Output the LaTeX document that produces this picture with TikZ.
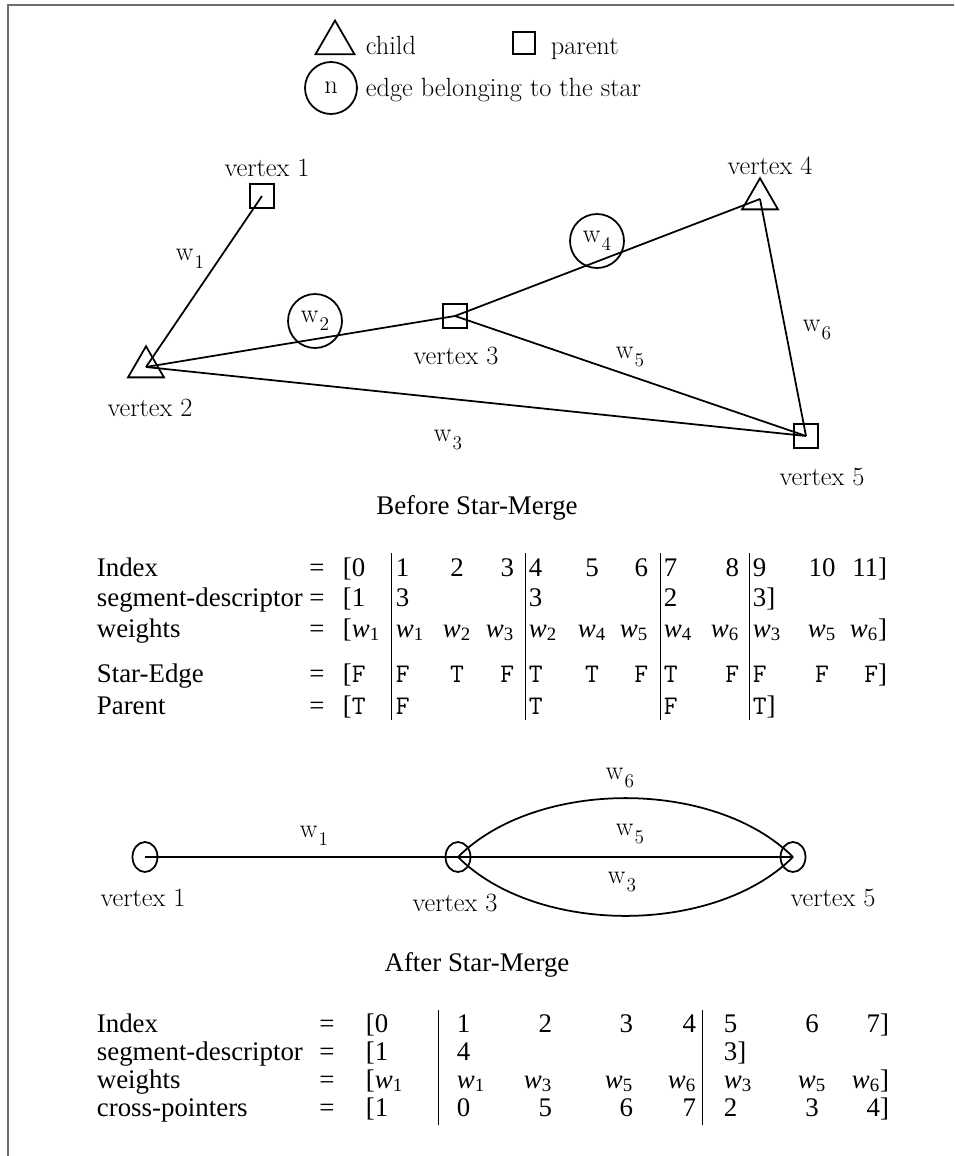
\documentclass[tikz,border=0pt]{standalone}
\usepackage{fontspec}
\newfontfamily\tnr{Liberation Serif}
\usepackage{tikz}
\usetikzlibrary{shapes, shapes.geometric, calc}

\definecolor{framegray}{RGB}{110,110,110}

\newcommand{\cmsize}{\fontsize{15}{18}\selectfont}
\newcommand{\tnrsize}{\tnr\fontsize{15.3}{18}\selectfont}
\newcommand{\wlab}[1]{w\kern0.6pt\raisebox{-4.5pt}{\fontsize{11}{11}\selectfont #1}}
\newcommand{\wt}[1]{\textit{w}\textsubscript{#1}}
\newcommand{\tfval}[1]{{\ttfamily #1}}

\tikzstyle{parentmark} = [
    rectangle,
    draw = black,
    minimum size = 0.48cm,
    inner sep = 0pt,
]
\tikzstyle{childmark} = [
    regular polygon,
    regular polygon sides = 3,
    draw = black,
    minimum size = 0.83cm,
    inner sep = 0pt,
]
\tikzstyle{staredge} = [
    circle,
    draw = black,
    minimum size = 1.08cm,
    inner sep = 0pt,
    font = \cmsize,
]
\tikzstyle{merged} = [
    ellipse,
    draw = black,
    minimum width = 0.5cm,
    minimum height = 0.6cm,
    inner sep = 0pt,
]
\tikzstyle{cmtext} = [font = \cmsize, inner sep = 0pt]
\tikzstyle{cell} = [font = \tnrsize, inner sep = 0pt]

\begin{document}
\begin{tikzpicture} [x = 0.02cm, y = -0.02cm, line width = 1pt]
    \useasboundingbox (0, 0) rectangle (954, 1156);
    \draw[framegray, line width = 1.2pt] (954, 5) -| (8, 1156);

    % legend
    \node (LegendChild) [childmark, minimum size = 0.9cm] at (335, 43) {};
    \node (TextChild) [cmtext, anchor = base west] at (365, 54) {child};
    \node (LegendParent) [parentmark, minimum size = 0.44cm] at (524, 43) {};
    \node (TextParent) [cmtext, anchor = base west] at (550, 54) {parent};
    \node (LegendStar) [staredge, minimum size = 1.04cm] at (331, 88) {n};
    \node (TextStar) [cmtext, anchor = base west] at (365, 96) {edge belonging to the star};

    % before star-merge
    \node (V1) [parentmark] at (262, 196) {};
    \node (V2) [childmark] at (146, 367) {};
    \node (V3) [parentmark] at (455, 316) {};
    \node (V4) [childmark] at (760, 199) {};
    \node (V5) [parentmark] at (806, 436) {};

    \draw[-] (V1.center) -- (V2.center);
    \draw[-] (V2.center) -- (V3.center);
    \draw[-] (V2.center) -- (V5.center);
    \draw[-] (V3.center) -- (V4.center);
    \draw[-] (V3.center) -- (V5.center);
    \draw[-] (V4.center) -- (V5.center);

    \node (W1) [cmtext] at (190, 259) {\wlab{1}};
    \node (W2) [staredge] at (315, 321) {\wlab{2}};
    \node (W3) [cmtext] at (448, 440) {\wlab{3}};
    \node (W4) [staredge] at (597, 241) {\wlab{4}};
    \node (W5) [cmtext] at (630, 357) {\wlab{5}};
    \node (W6) [cmtext] at (817, 330) {\wlab{6}};

    \node (L1) [cmtext] at (267, 168) {vertex 1};
    \node (L2) [cmtext] at (150, 408) {vertex 2};
    \node (L3) [cmtext] at (456, 356) {vertex 3};
    \node (L4) [cmtext] at (770, 166) {vertex 4};
    \node (L5) [cmtext] at (822, 477) {vertex 5};

    \node (Before) [cell] at (477, 508) {Before Star-Merge};

    % before: arrays
    \foreach \y/\name [count = \r] in {576/Index, 606/segment-descriptor, 637/weights, 682/Star-Edge, 714/Parent} {
        \node (TA-\r-label) [cell, anchor = base west] at (96, \y) {\name};
        \node (TA-\r-eq) [cell, anchor = base] at (317, \y) {=};
    }
    \foreach \x/\a/\t [count = \c] in {342/base west/[0, 395/base west/1, 457/base/2, 515/base east/3, 528/base west/4, 592/base/5, 649/base east/6, 663/base west/7, 740/base east/8, 752/base west/9, 822/base/10, 888/base east/11]}
        \node (TA-1-\c) [cell, anchor = \a] at (\x, 576) {\t};
    \foreach \x/\a/\t [count = \c] in {342/base west/[1, 395/base west/3, 528/base west/3, 663/base west/2, 752/base west/3]}
        \node (TA-2-\c) [cell, anchor = \a] at (\x, 606) {\t};
    \foreach \x/\a/\t [count = \c] in {342/base west/[\wt{1}, 395/base west/\wt{1}, 457/base/\wt{2}, 515/base east/\wt{3}, 528/base west/\wt{2}, 592/base/\wt{4}, 649/base east/\wt{5}, 663/base west/\wt{4}, 740/base east/\wt{6}, 752/base west/\wt{3}, 822/base/\wt{5}, 888/base east/\wt{6}]}
        \node (TA-3-\c) [cell, anchor = \a] at (\x, 637) {\t};
    \foreach \x/\a/\t [count = \c] in {342/base west/[\tfval{F}, 395/base west/\tfval{F}, 457/base/\tfval{T}, 515/base east/\tfval{F}, 528/base west/\tfval{T}, 592/base/\tfval{T}, 649/base east/\tfval{F}, 663/base west/\tfval{T}, 740/base east/\tfval{F}, 752/base west/\tfval{F}, 822/base/\tfval{F}, 888/base east/\tfval{F}]}
        \node (TA-4-\c) [cell, anchor = \a] at (\x, 682) {\t};
    \foreach \x/\a/\t [count = \c] in {342/base west/[\tfval{T}, 395/base west/\tfval{F}, 528/base west/\tfval{T}, 663/base west/\tfval{F}, 752/base west/\tfval{T}]}
        \node (TA-5-\c) [cell, anchor = \a] at (\x, 714) {\t};
    \foreach \x [count = \b] in {391, 525, 660, 749} {
        \coordinate (TA-bar\b-top) at (\x, 553);
        \coordinate (TA-bar\b-bot) at (\x, 720);
        \draw[line width = 0.5pt] (TA-bar\b-top) -- (TA-bar\b-bot);
    }

    % after star-merge
    \node (M1) [merged] at (145, 857) {};
    \node (M3) [merged] at (458, 857) {};
    \node (M5) [merged] at (793, 857) {};

    \draw[-] (M1.center) -- (M3.center);
    \draw[-] (M3.center) -- (M5.center);
    \draw[-] (M3.center) to[out = 45, in = 135, looseness = 0.85] (M5.center);
    \draw[-] (M3.center) to[out = -45, in = -135, looseness = 0.85] (M5.center);

    \node (A1) [cmtext] at (314, 836) {\wlab{1}};
    \node (A6) [cmtext] at (620, 778) {\wlab{6}};
    \node (A5) [cmtext] at (630, 834) {\wlab{5}};
    \node (A3) [cmtext] at (622, 882) {\wlab{3}};

    \node (N1) [cmtext] at (143, 898) {vertex 1};
    \node (N3) [cmtext] at (455, 903) {vertex 3};
    \node (N5) [cmtext] at (833, 898) {vertex 5};

    \node (After) [cell] at (477, 965) {After Star-Merge};

    % after: arrays
    \foreach \y/\name [count = \r] in {1032/Index, 1060/segment-descriptor, 1088/weights, 1116/cross-pointers} {
        \node (TB-\r-label) [cell, anchor = base west] at (96, \y) {\name};
        \node (TB-\r-eq) [cell, anchor = base] at (327, \y) {=};
    }
    \foreach \x/\a/\t [count = \c] in {365/base west/[0, 456/base west/1, 553/base east/2, 634/base east/3, 697/base east/4, 723/base west/5, 812/base/6, 890/base east/7]}
        \node (TB-1-\c) [cell, anchor = \a] at (\x, 1032) {\t};
    \foreach \x/\a/\t [count = \c] in {365/base west/[1, 456/base west/4, 723/base west/3]}
        \node (TB-2-\c) [cell, anchor = \a] at (\x, 1060) {\t};
    \foreach \x/\a/\t [count = \c] in {365/base west/[\wt{1}, 456/base west/\wt{1}, 553/base east/\wt{3}, 634/base east/\wt{5}, 697/base east/\wt{6}, 723/base west/\wt{3}, 812/base/\wt{5}, 890/base east/\wt{6}]}
        \node (TB-3-\c) [cell, anchor = \a] at (\x, 1088) {\t};
    \foreach \x/\a/\t [count = \c] in {365/base west/[1, 456/base west/0, 553/base east/5, 634/base east/6, 697/base east/7, 723/base west/2, 812/base/3, 890/base east/4]}
        \node (TB-4-\c) [cell, anchor = \a] at (\x, 1116) {\t};
    \foreach \x [count = \b] in {438, 702} {
        \coordinate (TB-bar\b-top) at (\x, 1010);
        \coordinate (TB-bar\b-bot) at (\x, 1125);
        \draw[line width = 0.5pt] (TB-bar\b-top) -- (TB-bar\b-bot);
    }
\end{tikzpicture}
\end{document}
